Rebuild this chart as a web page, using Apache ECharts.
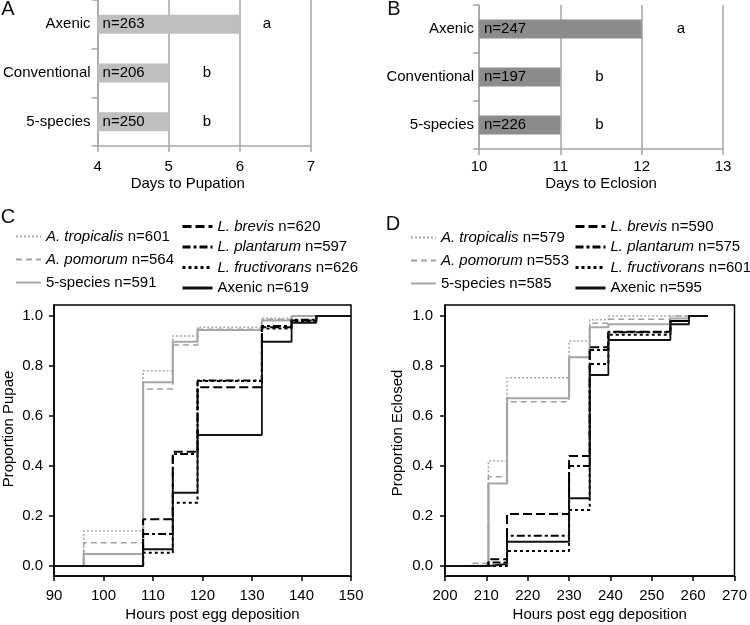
<!DOCTYPE html>
<html><head><meta charset="utf-8">
<script src="https://cdn.jsdelivr.net/npm/echarts@6/dist/echarts.min.js"></script>
<style>html,body{margin:0;padding:0;background:#fff}#c{width:750px;height:625px}</style>
</head><body><div id="c"></div>
<script>
// ---------- data ----------
const groups = ['Axenic', 'Conventional', '5-species'];
const pupationDays = [6, 5, 5];
const pupationN = [263, 206, 250];
const pupationLetters = ['a', 'b', 'b'];
const eclosionDays = [12, 11, 11];
const eclosionN = [247, 197, 226];
const eclosionLetters = ['a', 'b', 'b'];

const strainNames = ['A. tropicalis', 'A. pomorum', '5-species', 'L. brevis', 'L. plantarum', 'L. fructivorans', 'Axenic'];
const pupaeN = [601, 564, 591, 620, 597, 626, 619];
const eclosedN = [579, 553, 585, 590, 575, 601, 595];

const pupaeHours = [90, 96, 108, 114, 119, 132, 138, 143, 150];
const pupaeTropicalis   = [0, 0.14, 0.781, 0.92, 0.955, 0.991, 1.0, 1.0, 1.0];
const pupaePomorum      = [0, 0.093, 0.708, 0.884, 0.947, 0.986, 1.0, 1.0, 1.0];
const pupaeFiveSpecies  = [0, 0.048, 0.735, 0.897, 0.944, 0.982, 1.0, 1.0, 1.0];
const pupaeBrevis       = [0, 0, 0.187, 0.457, 0.715, 0.955, 0.982, 1.0, 1.0];
const pupaePlantarum    = [0, 0, 0.128, 0.448, 0.742, 0.96, 0.985, 1.0, 1.0];
const pupaeFructivorans = [0, 0, 0.053, 0.253, 0.74, 0.95, 0.98, 1.0, 1.0];
const pupaeAxenic       = [0, 0, 0.067, 0.293, 0.524, 0.897, 0.973, 1.0, 1.0];

const eclosedHours = [200, 206, 210.5, 215, 230, 235, 239.5, 254.5, 259, 263.5];
const eclosedTropicalis   = [0, 0.005, 0.42, 0.753, 0.90, 0.985, 1.0, 1.0, 1.0, 1.0];
const eclosedPomorum      = [0, 0.011, 0.357, 0.657, 0.835, 0.971, 0.987, 1.0, 1.0, 1.0];
const eclosedFiveSpecies  = [0, 0, 0.33, 0.671, 0.835, 0.955, 0.967, 0.99, 1.0, 1.0];
const eclosedBrevis       = [0, 0, 0.027, 0.208, 0.44, 0.875, 0.937, 0.98, 1.0, 1.0];
const eclosedPlantarum    = [0, 0, 0.014, 0.121, 0.40, 0.864, 0.935, 0.98, 1.0, 1.0];
const eclosedFructivorans = [0, 0, 0, 0.06, 0.224, 0.808, 0.925, 0.98, 1.0, 1.0];
const eclosedAxenic       = [0, 0, 0.008, 0.097, 0.271, 0.764, 0.904, 0.967, 1.0, 1.0];

const proportionTicks = [0, 0.2, 0.4, 0.6, 0.8, 1.0];

// ---------- styles ----------
const FONT = 'Liberation Sans, Arial, sans-serif';
const lineStyles = [
  {color: '#a9a9a9', width: 1.6, type: [2, 2]},
  {color: '#a0a0a0', width: 1.6, type: [6, 4]},
  {color: '#a6a6a6', width: 2.2, type: 'solid'},
  {color: '#000', width: 2, type: [9, 4]},
  {color: '#000', width: 2, type: [8, 3, 3, 3]},
  {color: '#000', width: 2, type: [3, 3]},
  {color: '#111', width: 1.8, type: 'solid'}
];
const pupaeVals = [pupaeTropicalis, pupaePomorum, pupaeFiveSpecies, pupaeBrevis, pupaePlantarum, pupaeFructivorans, pupaeAxenic];
const eclosedVals = [eclosedTropicalis, eclosedPomorum, eclosedFiveSpecies, eclosedBrevis, eclosedPlantarum, eclosedFructivorans, eclosedAxenic];
const letterGapA = [23, 34, 34];
const letterGapB = [35, 35, 35];

const chart = echarts.init(document.getElementById('c'));
const gray = '#a6a6a6';
const txt = {fontFamily: FONT, fontSize: 15, color: '#000'};

function barXAxis(grid, min, max, name, nameGap, labelMargin, pad) {
  return {gridIndex: grid, type: 'value', min: min, max: max, interval: 1, startValue: min,
    axisLine: {show: true, onZero: false, lineStyle: {color: gray, width: 1.5}},
    axisTick: {show: true, length: 6, lineStyle: {color: gray, width: 1.5}},
    axisLabel: Object.assign({margin: labelMargin}, txt),
    splitLine: {show: true, lineStyle: {color: gray, width: 1.5}},
    name: name, nameLocation: 'middle', nameGap: nameGap,
    nameTextStyle: Object.assign({padding: pad}, txt)};
}
function barYAxis(grid, margin) {
  return {gridIndex: grid, type: 'category', data: groups, inverse: true,
    axisLine: {show: true, lineStyle: {color: gray, width: 1.5}},
    axisTick: {show: true, length: 6, lineStyle: {color: gray, width: 1.5}},
    axisLabel: Object.assign({margin: margin}, txt), splitLine: {show: false}};
}
function lineXAxis(grid, min, max) {
  return {gridIndex: grid, type: 'value', min: min, max: max, interval: 10,
    axisLine: {show: true, onZero: false, lineStyle: {color: '#000', width: 1.5}},
    axisTick: {show: true, length: 5, lineStyle: {color: '#000', width: 1.5}},
    axisLabel: Object.assign({margin: 12}, txt), splitLine: {show: false},
    name: 'Hours post egg deposition', nameLocation: 'middle', nameGap: 31,
    nameTextStyle: Object.assign({padding: [0, 0, 0, 20]}, txt)};
}
function lineYAxis(grid, name, gap, pad, margin) {
  return {gridIndex: grid, type: 'value', min: -0.04, max: 1.044,
    axisLine: {show: true, onZero: false, lineStyle: {color: '#000', width: 1.5}},
    axisTick: {show: true, length: 5, customValues: proportionTicks, lineStyle: {color: '#000', width: 1.5}},
    axisLabel: Object.assign({margin: margin, customValues: proportionTicks, formatter: v => v.toFixed(1)}, txt),
    splitLine: {show: false},
    name: name, nameLocation: 'middle', nameGap: gap,
    nameTextStyle: Object.assign({padding: [0, 0, 0, pad]}, txt)};
}

function barSeries(ax, vals, letters, gaps, nums, color) {
  return [
    {type: 'bar', xAxisIndex: ax, yAxisIndex: ax, barWidth: 19, clip: true, silent: true,
      data: vals.map((v, i) => ({value: v, label: {distance: gaps[i]}})),
      itemStyle: {color: color},
      label: Object.assign({show: true, position: 'right', formatter: p => letters[p.dataIndex]}, txt)},
    {type: 'bar', xAxisIndex: ax, yAxisIndex: ax, barWidth: 19, barGap: '-100%', clip: true, silent: true,
      data: vals, itemStyle: {color: 'rgba(0,0,0,0)'},
      label: Object.assign({show: true, position: 'insideLeft', distance: 5,
        formatter: p => 'n=' + nums[p.dataIndex]}, txt)}
  ];
}
function stepSeries(ax, hours, vals, nums) {
  return strainNames.map((nm, i) => ({
    type: 'line', name: nm + ' n=' + nums[i], xAxisIndex: ax, yAxisIndex: ax,
    step: 'end', symbol: 'none', showSymbol: false, silent: true, animation: false,
    data: hours.map((h, j) => [h, vals[i][j]]),
    itemStyle: {color: lineStyles[i].color},
    lineStyle: lineStyles[i], z: 2 + i * 0.01 + (i >= 3 ? 1 : 0)
  }));
}
function legendFmt(name) {
  const k = name.indexOf(' n=');
  const sp = name.slice(0, k);
  if (sp.startsWith('A.') || sp.startsWith('L.')) return '{it|' + sp + '}' + name.slice(k);
  return name;
}
function legend(names, left, top, w, gap, lw) {
  const l = {data: names, orient: 'vertical', left: left, top: top, padding: 0,
    itemWidth: w, itemHeight: 12, itemGap: gap, selectedMode: false, formatter: legendFmt,
    itemStyle: {opacity: 0, borderWidth: 0},
    textStyle: Object.assign({rich: {it: {fontStyle: 'italic', fontFamily: FONT, fontSize: 15, color: '#000'}}}, txt)};
  if (lw) l.lineStyle = {width: lw};
  return l;
}
const cNames = strainNames.map((n, i) => n + ' n=' + pupaeN[i]);
const dNames = strainNames.map((n, i) => n + ' n=' + eclosedN[i]);

const letterStyle = (t, x, y) => ({type: 'text', x: x, y: y,
  style: {text: t, font: '20px ' + FONT, fill: '#111', align: 'center', verticalAlign: 'middle'}});

chart.setOption({
  animation: false,
  backgroundColor: '#fff',
  textStyle: {fontFamily: FONT},
  grid: [
    {left: 94, top: 0, width: 217, height: 146},
    {left: 479, top: 5, width: 244, height: 144},
    {left: 54, top: 305, width: 297, height: 271, show: true, borderColor: '#000', borderWidth: 1.5, backgroundColor: 'transparent'},
    {left: 445, top: 305, width: 294, height: 271, show: true, borderColor: '#000', borderWidth: 1.5, backgroundColor: 'transparent'}
  ],
  xAxis: [
    barXAxis(0, 4, 7, 'Days to Pupation', 30, 13, [0, 33, 0, 0]),
    barXAxis(1, 10, 13, 'Days to Eclosion', 27, 10, [0, 0, 0, 0]),
    lineXAxis(2, 90, 150),
    lineXAxis(3, 200, 270)
  ],
  yAxis: [
    barYAxis(0, 7),
    barYAxis(1, 5),
    lineYAxis(2, 'Proportion Pupae', 38, 23, 11),
    lineYAxis(3, 'Proportion Eclosed', 40, 15, 12)
  ],
  legend: [
    legend(cNames.slice(0, 3), 15, 229, 25, 8),
    legend(cNames.slice(3), 181, 219, 30, 5.5, 3),
    legend(dNames.slice(0, 3), 410, 230, 25, 8),
    legend(dNames.slice(3), 574, 219, 30, 5.5, 3)
  ],
  graphic: [
    letterStyle('A', 8, 9), letterStyle('B', 394, 9),
    letterStyle('C', 8, 217), letterStyle('D', 393, 224)
  ],
  series: [].concat(
    barSeries(0, pupationDays, pupationLetters, letterGapA, pupationN, '#bfbfbf'),
    barSeries(1, eclosionDays, eclosionLetters, letterGapB, eclosionN, '#8c8c8c'),
    stepSeries(2, pupaeHours, pupaeVals, pupaeN),
    stepSeries(3, eclosedHours, eclosedVals, eclosedN)
  )
});
</script></body></html>
